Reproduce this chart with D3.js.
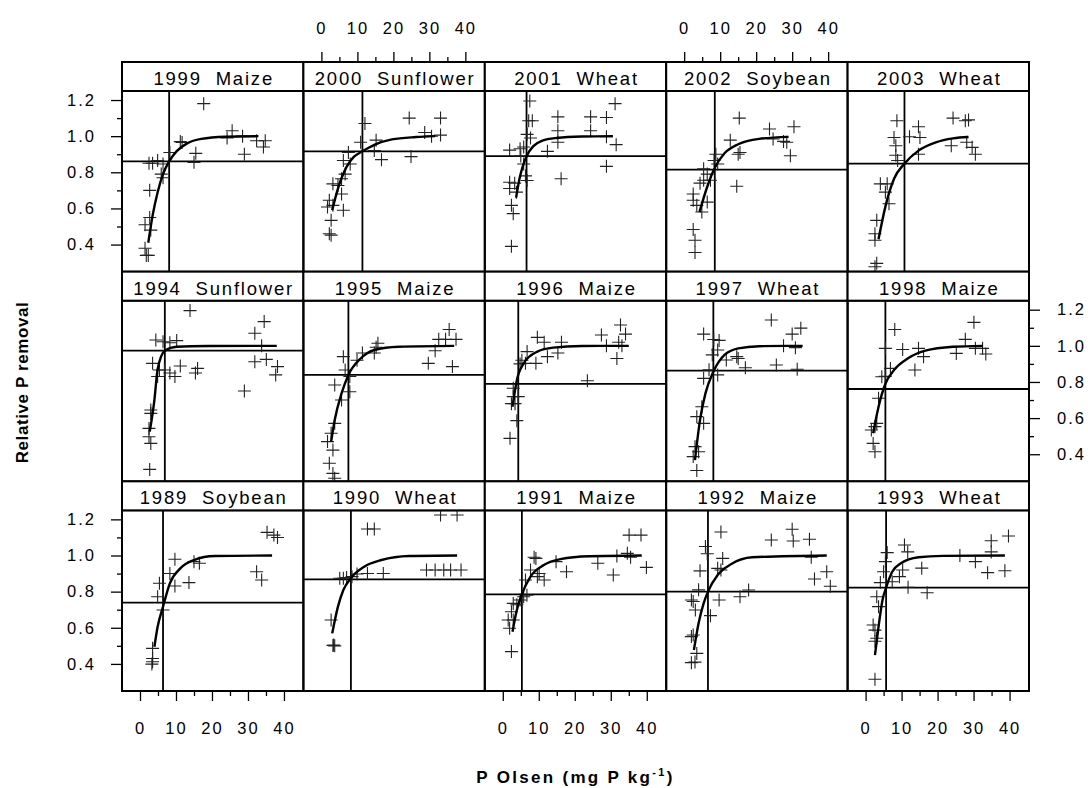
<!DOCTYPE html>
<html>
<head>
<meta charset="utf-8">
<script src="https://cdn.jsdelivr.net/npm/d3@7"></script>
<style>
  body { margin: 0; background: #fff; }
  text { font-family: "Liberation Sans", Arial, sans-serif; fill: #000; }
</style>
</head>
<body>
<div id="chart"></div>
<script>
// 1: DATA (panels left to right, top row first)
const panelLabels = [
  "1999  Maize", "2000  Sunflower", "2001  Wheat", "2002  Soybean", "2003  Wheat",
  "1994  Sunflower", "1995  Maize", "1996  Maize", "1997  Wheat", "1998  Maize",
  "1989  Soybean", "1990  Wheat", "1991  Maize", "1992  Maize", "1993  Wheat"
];

// critical P Olsen (vertical line) and critical relative removal (horizontal line)
const critOlsen   = [8.1, 11.4, 6.6, 8.5, 10.8,  6.9, 7.5, 4.3, 8.1, 5.5,  6.4, 8.2, 5.3, 6.6, 5.7];
const critRemoval = [0.86, 0.916, 0.889, 0.815, 0.848,  0.973, 0.839, 0.789, 0.863, 0.761,  0.739, 0.868, 0.785, 0.80, 0.822];

const xTicks = [0, 10, 20, 30, 40];
const xMinor = [5, 15, 25, 35];
const yTicks = [0.4, 0.6, 0.8, 1.0, 1.2];
const yMinor = [0.5, 0.7, 0.9, 1.1];

// fitted response curves
const c1999 = [[2.3,0.41],[3.5,0.56],[4.9,0.69],[6.4,0.79],[8.1,0.86],[10.2,0.917],[13.1,0.96],[17,0.985],[23.7,0.997],[32.9,1.0]];
const c2000 = [[3.0,0.59],[4.6,0.71],[7.0,0.83],[9.0,0.885],[11.4,0.916],[14.7,0.952],[19.6,0.982],[26.3,0.995],[31.6,1.0]];
const c2001 = [[3.7,0.66],[4.6,0.76],[5.5,0.83],[6.6,0.889],[8.5,0.945],[11,0.975],[15,0.99],[22,0.998],[30.6,1.0]];
const c2002 = [[4.25,0.58],[6.4,0.72],[8.5,0.825],[11.2,0.905],[15,0.955],[20.8,0.985],[29,0.996]];
const c2003 = [[3.6,0.43],[5.5,0.61],[7.9,0.764],[10.8,0.848],[14.7,0.92],[19.5,0.966],[24.3,0.988],[28.6,0.995]];
const c1994 = [[2.7,0.525],[4.0,0.70],[4.9,0.87],[6.9,0.973],[10.2,0.995],[18.9,0.999],[38.0,1.0]];
const c1995 = [[2.7,0.47],[3.7,0.59],[5.6,0.737],[7.5,0.839],[10.9,0.93],[14.7,0.977],[21.5,0.995],[36.9,1.0]];
const c1996 = [[2.7,0.663],[3.9,0.81],[5.8,0.903],[9.6,0.968],[14,0.99],[22,0.999],[35.0,1.0]];
const c1997 = [[3.0,0.368],[4.4,0.59],[5.9,0.737],[8.1,0.857],[11.2,0.95],[15.0,0.986],[20.8,0.998],[32.9,1.0]];
const c1998 = [[2.1,0.516],[3.6,0.663],[5.5,0.79],[7.9,0.866],[11.8,0.931],[16.6,0.973],[24.3,0.995],[32.5,1.0]];
const c1989 = [[4.0,0.495],[4.9,0.606],[6.4,0.717],[8.3,0.846],[11.2,0.929],[15.0,0.975],[20.8,0.997],[36.7,1.0]];
const c1990 = [[3.0,0.569],[4.6,0.717],[6.1,0.809],[8.2,0.875],[11.9,0.938],[16.7,0.975],[24.4,0.997],[37.7,1.0]];
const c1991 = [[2.7,0.578],[3.9,0.698],[5.3,0.785],[7.7,0.883],[11.4,0.947],[16,0.98],[24,0.996],[38.6,1.0]];
const c1992 = [[2.7,0.477],[4.0,0.625],[5.4,0.735],[6.6,0.80],[9.3,0.892],[13.1,0.953],[18.9,0.99],[39.6,1.0]];
const c1993 = [[2.6,0.449],[3.6,0.606],[4.7,0.754],[5.7,0.822],[7.4,0.91],[9.8,0.957],[14.7,0.99],[21.4,0.998],[38.7,1.0]];

// observations [P Olsen, relative P removal]
const p1999 = [[17.7,1.18],[25.6,1.03],[24.2,0.99],[28.5,1.0],[32.4,0.975],[34.8,0.975],[34.3,0.94],[29.0,0.90],[15.5,0.905],[15.0,0.855],[11.7,0.965],[11.2,0.97],[8.3,0.91],[6.4,0.846],[4.9,0.865],[2.5,0.85],[3.5,0.85],[5.9,0.79],[6.4,0.77],[2.7,0.70],[2.7,0.55],[1.4,0.51],[3.0,0.48],[1.4,0.38],[1.75,0.34],[2.3,0.34]];
const p2000 = [[12.1,1.07],[24.4,1.10],[33.1,1.10],[28.7,1.02],[30.6,1.0],[33.1,1.006],[10.9,0.966],[15.2,0.978],[14.7,0.92],[16.7,0.87],[24.9,0.887],[7.5,0.91],[6.1,0.865],[8.0,0.846],[6.6,0.79],[5.6,0.764],[3.2,0.736],[4.6,0.727],[5.6,0.68],[2.2,0.645],[1.7,0.608],[3.2,0.617],[6.1,0.59],[2.7,0.534],[2.2,0.46],[2.7,0.452]];
const p2001 = [[1.9,0.923],[4.8,0.93],[5.8,0.94],[7.5,1.195],[7.2,1.085],[8.2,1.085],[6.75,1.01],[7.7,0.99],[1.9,0.745],[1.9,0.71],[3.8,0.69],[3.3,0.74],[2.4,0.617],[2.9,0.571],[2.4,0.39],[5.8,0.846],[6.3,0.78],[6.75,0.755],[5.0,0.89],[15.3,1.107],[24.4,1.107],[28.8,1.103],[31.2,1.18],[15.3,1.03],[24.4,1.03],[15.3,0.966],[28.8,0.997],[31.5,0.953],[28.8,0.833],[16.2,0.764],[12.4,0.916]];
const p2002 = [[15.3,1.10],[23.7,1.04],[30.5,1.052],[12.8,0.978],[15.5,0.91],[15.0,0.90],[24.7,0.984],[27.6,0.971],[28.5,0.966],[29.5,0.892],[14.6,0.723],[8.8,0.90],[8.3,0.865],[9.3,0.846],[5.4,0.819],[6.4,0.79],[4.4,0.74],[5.4,0.756],[7.3,0.756],[2.5,0.68],[2.5,0.645],[6.4,0.635],[3.5,0.617],[4.9,0.58],[2.5,0.483],[3.0,0.424],[3.0,0.356]];
const p2003 = [[8.7,1.085],[14.7,1.052],[24.3,1.10],[27.7,1.085],[28.6,1.09],[7.9,0.993],[8.4,0.947],[12.2,0.997],[15.1,0.993],[14.7,0.90],[23.8,0.947],[28.1,0.966],[29.6,0.938],[30.5,0.90],[8.4,0.894],[8.9,0.865],[4.1,0.736],[6.0,0.736],[5.5,0.69],[6.5,0.626],[3.1,0.534],[2.6,0.46],[2.6,0.424],[3.1,0.296],[2.6,0.277]];
const p1994 = [[13.9,1.195],[34.5,1.134],[31.9,1.07],[33.8,1.0],[4.4,1.032],[6.4,1.023],[8.3,1.017],[10.2,1.029],[3.5,0.903],[11.2,0.888],[16.0,0.875],[15.4,0.85],[5.4,0.866],[6.8,0.866],[8.3,0.85],[9.7,0.83],[4.9,0.83],[31.9,0.912],[35.1,0.925],[38.2,0.885],[37.7,0.839],[29.0,0.75],[3.0,0.645],[3.0,0.626],[2.5,0.543],[2.5,0.497],[3.0,0.46],[2.7,0.316]];
const p1995 = [[35.5,1.09],[32.6,1.036],[34.5,1.036],[37.4,1.036],[31.6,0.973],[29.7,0.903],[36.4,0.885],[15.7,1.014],[15.2,0.992],[14.7,0.96],[11.4,0.96],[9.9,0.92],[6.1,0.94],[6.6,0.866],[7.9,0.83],[3.7,0.783],[7.9,0.746],[5.6,0.70],[3.7,0.571],[2.7,0.516],[1.7,0.47],[3.2,0.423],[2.2,0.35],[3.2,0.294],[3.7,0.267]];
const p1996 = [[9.6,1.047],[6.75,0.968],[5.3,0.92],[4.8,0.90],[6.3,0.903],[9.2,0.903],[2.9,0.765],[2.9,0.719],[4.3,0.719],[3.4,0.68],[2.4,0.68],[3.9,0.586],[2.0,0.488],[11.5,1.02],[16.3,1.02],[12.4,0.94],[15.3,0.96],[27.4,1.06],[32.7,1.115],[34.1,1.065],[32.2,1.02],[28.8,1.0],[33.1,1.0],[31.7,0.93],[23.5,0.807]];
const p1997 = [[24.2,1.143],[32.4,1.098],[30.0,1.065],[5.4,1.065],[9.7,1.03],[8.2,1.035],[9.3,0.977],[7.8,0.95],[11.7,0.922],[14.6,0.94],[15.0,0.93],[17.0,0.879],[25.6,0.894],[31.4,0.87],[27.6,1.0],[30.9,0.99],[6.9,0.867],[9.3,0.839],[5.4,0.82],[4.9,0.663],[3.5,0.608],[5.4,0.571],[3.0,0.442],[2.5,0.387],[4.0,0.414],[3.5,0.31]];
const p1998 = [[30.1,1.13],[8.1,1.09],[27.7,1.036],[5.5,0.986],[10.3,0.98],[14.7,0.986],[16.1,0.94],[25.2,0.958],[30.5,0.986],[32.5,0.986],[33.4,0.955],[13.7,0.866],[6.9,0.875],[4.5,0.829],[5.5,0.832],[3.6,0.71],[3.1,0.571],[1.6,0.534],[2.6,0.553],[2.1,0.46],[2.6,0.414]];
const p1989 = [[35.3,1.128],[37.2,1.113],[38.2,1.10],[9.7,0.979],[15.0,0.966],[16.5,0.957],[8.3,0.90],[32.4,0.91],[33.8,0.864],[5.4,0.846],[9.7,0.831],[13.6,0.85],[4.9,0.772],[6.4,0.698],[3.5,0.486],[3.5,0.43],[3.5,0.412],[3.3,0.399]];
const p1990 = [[33.1,1.224],[37.7,1.224],[12.8,1.147],[14.7,1.147],[29.2,0.92],[31.6,0.92],[34.0,0.92],[35.9,0.92],[38.8,0.92],[17.2,0.90],[12.8,0.90],[9.9,0.898],[8.5,0.883],[5.1,0.874],[6.1,0.874],[7.0,0.878],[2.7,0.643],[3.4,0.505],[3.7,0.50],[3.2,0.502]];
const p1991 = [[2.4,0.468],[1.9,0.597],[1.5,0.643],[2.9,0.643],[2.4,0.689],[2.9,0.735],[3.9,0.727],[4.8,0.754],[5.8,0.772],[6.7,0.78],[6.3,0.864],[7.7,0.92],[9.2,0.984],[8.7,0.99],[9.6,0.883],[10.1,0.90],[11.5,0.864],[14.8,0.966],[17.7,0.91],[26.4,0.957],[30.7,0.892],[31.7,0.997],[34.6,1.012],[35.5,0.99],[35.1,1.113],[38.4,1.113],[39.9,0.934]];
const p1992 = [[10.2,1.13],[30.0,1.145],[24.2,1.086],[30.3,1.08],[34.8,1.09],[5.9,1.05],[6.4,1.01],[10.7,0.984],[9.3,0.929],[10.2,0.92],[4.4,0.915],[35.3,0.99],[39.6,0.91],[36.2,0.87],[40.6,0.83],[17.9,0.809],[15.5,0.772],[9.7,0.754],[4.0,0.81],[2.0,0.754],[2.5,0.745],[3.1,0.698],[7.3,0.667],[2.0,0.551],[2.5,0.56],[3.5,0.458],[2.0,0.407],[3.0,0.41]];
const p1993 = [[39.7,1.108],[34.9,1.082],[34.9,1.02],[10.8,1.058],[11.7,1.02],[6.0,1.016],[5.5,0.966],[26.2,1.0],[30.5,0.966],[15.6,0.93],[10.3,0.92],[5.0,0.91],[33.9,0.905],[38.7,0.916],[9.4,0.883],[7.4,0.855],[4.1,0.85],[11.8,0.824],[17.1,0.794],[3.1,0.772],[3.6,0.717],[2.1,0.615],[2.6,0.587],[3.1,0.542],[2.6,0.525],[2.6,0.315]];

const curves = [c1999, c2000, c2001, c2002, c2003, c1994, c1995, c1996, c1997, c1998, c1989, c1990, c1991, c1992, c1993];
const observations = [p1999, p2000, p2001, p2002, p2003, p1994, p1995, p1996, p1997, p1998, p1989, p1990, p1991, p1992, p1993];

// 2: LAYOUT
const W = 1088, H = 788;
const gridLeft = 122, gridRight = 1029, gridTop = 62, gridBottom = 691;
const nCols = 5, nRows = 3;
const stripH = 29;
const colW = (gridRight - gridLeft) / nCols;
const rowH = (gridBottom - gridTop) / nRows;
const panelH = rowH - stripH;

const svg = d3.select("#chart")
  .append("svg")
  .attr("width", W)
  .attr("height", H);

// 3: SCALES (shared by every panel)
const x = d3.scaleLinear().domain([-5, 45.4]).range([0, colW]);
const y = d3.scaleLinear().domain([0.25, 1.25]).range([panelH, 0]);

const line = d3.line()
  .x(d => x(d[0]))
  .y(d => y(d[1]))
  .curve(d3.curveMonotoneX);

const tickFont = "16.5px";
const tickSpacing = "2px";

function styleAxis(g) {
  g.select(".domain").remove();
  g.selectAll(".tick line").attr("stroke", "#000").attr("stroke-width", 1.3);
  g.selectAll(".tick text")
    .attr("fill", "#000")
    .style("font-size", tickFont)
    .style("letter-spacing", tickSpacing);
}

// 4: PANELS
panelLabels.forEach((label, i) => {
  const col = i % nCols, row = Math.floor(i / nCols);
  const left = gridLeft + col * colW;
  const stripTop = gridTop + row * rowH;

  const g = svg.append("g")
    .attr("transform", `translate(${left},${stripTop + stripH})`);

  // strip
  svg.append("rect")
    .attr("x", left).attr("y", stripTop)
    .attr("width", colW).attr("height", stripH)
    .attr("fill", "#fff").attr("stroke", "#000").attr("stroke-width", 2);

  svg.append("text")
    .attr("x", left + colW / 2 + 1)
    .attr("y", stripTop + stripH - 6)
    .attr("text-anchor", "middle")
    .style("font-size", "18.5px")
    .style("letter-spacing", "1.8px")
    .style("white-space", "pre")
    .text(label);

  // reference lines
  g.append("line")
    .attr("x1", x(critOlsen[i])).attr("x2", x(critOlsen[i]))
    .attr("y1", 0).attr("y2", panelH)
    .attr("stroke", "#000").attr("stroke-width", 1.8);

  g.append("line")
    .attr("x1", 0).attr("x2", colW)
    .attr("y1", y(critRemoval[i])).attr("y2", y(critRemoval[i]))
    .attr("stroke", "#000").attr("stroke-width", 1.8);

  // observations as plus signs
  g.selectAll(".obs")
    .data(observations[i])
    .enter()
    .append("path")
    .attr("class", "obs")
    .attr("transform", d => `translate(${x(d[0])},${y(d[1])})`)
    .attr("d", "M-6.5,0H6.5M0,-6.5V6.5")
    .attr("stroke", "#222")
    .attr("stroke-width", 1.1)
    .attr("fill", "none");

  // fitted curve
  g.append("path")
    .attr("d", line(curves[i]))
    .attr("fill", "none")
    .attr("stroke", "#000")
    .attr("stroke-width", 2.4);

  // panel frame
  g.append("rect")
    .attr("width", colW).attr("height", panelH)
    .attr("fill", "none").attr("stroke", "#000").attr("stroke-width", 2);

  // 5: ALTERNATING AXES
  if (row === 0 && col % 2 === 1) {
    svg.append("g").attr("transform", `translate(${left},${gridTop})`)
      .call(d3.axisTop(x).tickValues(xTicks).tickSize(10).tickPadding(18).tickSizeOuter(0))
      .call(styleAxis);
    svg.append("g").attr("transform", `translate(${left},${gridTop})`)
      .call(d3.axisTop(x).tickValues(xMinor).tickSize(5).tickFormat("").tickSizeOuter(0))
      .call(styleAxis);
  }
  if (row === nRows - 1 && col % 2 === 0) {
    svg.append("g").attr("transform", `translate(${left},${gridBottom})`)
      .call(d3.axisBottom(x).tickValues(xTicks).tickSize(10).tickPadding(21).tickSizeOuter(0))
      .call(styleAxis);
    svg.append("g").attr("transform", `translate(${left},${gridBottom})`)
      .call(d3.axisBottom(x).tickValues(xMinor).tickSize(5).tickFormat("").tickSizeOuter(0))
      .call(styleAxis);
  }
  if (col === 0 && row % 2 === 0) {
    svg.append("g").attr("transform", `translate(${gridLeft},${stripTop + stripH})`)
      .call(d3.axisLeft(y).tickValues(yTicks).tickSize(11).tickPadding(15).tickFormat(d3.format(".1f")).tickSizeOuter(0))
      .call(styleAxis);
    svg.append("g").attr("transform", `translate(${gridLeft},${stripTop + stripH})`)
      .call(d3.axisLeft(y).tickValues(yMinor).tickSize(5).tickFormat("").tickSizeOuter(0))
      .call(styleAxis);
  }
  if (col === nCols - 1 && row % 2 === 1) {
    svg.append("g").attr("transform", `translate(${gridRight},${stripTop + stripH})`)
      .call(d3.axisRight(y).tickValues(yTicks).tickSize(11).tickPadding(17).tickFormat(d3.format(".1f")).tickSizeOuter(0))
      .call(styleAxis);
    svg.append("g").attr("transform", `translate(${gridRight},${stripTop + stripH})`)
      .call(d3.axisRight(y).tickValues(yMinor).tickSize(5).tickFormat("").tickSizeOuter(0))
      .call(styleAxis);
  }
});

// 6: AXIS TITLES
svg.append("text")
  .attr("transform", `translate(28,${(gridTop + gridBottom) / 2 + 6}) rotate(-90)`)
  .attr("text-anchor", "middle")
  .style("font-size", "17px")
  .style("font-weight", "bold")
  .style("letter-spacing", "0.6px")
  .text("Relative P removal");

const xTitle = svg.append("text")
  .attr("x", (gridLeft + gridRight) / 2)
  .attr("y", 783)
  .attr("text-anchor", "middle")
  .style("font-size", "17px")
  .style("font-weight", "bold")
  .style("letter-spacing", "2.3px");
xTitle.append("tspan").text("P Olsen (mg P kg");
xTitle.append("tspan").attr("dy", -7).style("font-size", "11px").text("-1");
xTitle.append("tspan").attr("dy", 7).text(")");
</script>
</body>
</html>
